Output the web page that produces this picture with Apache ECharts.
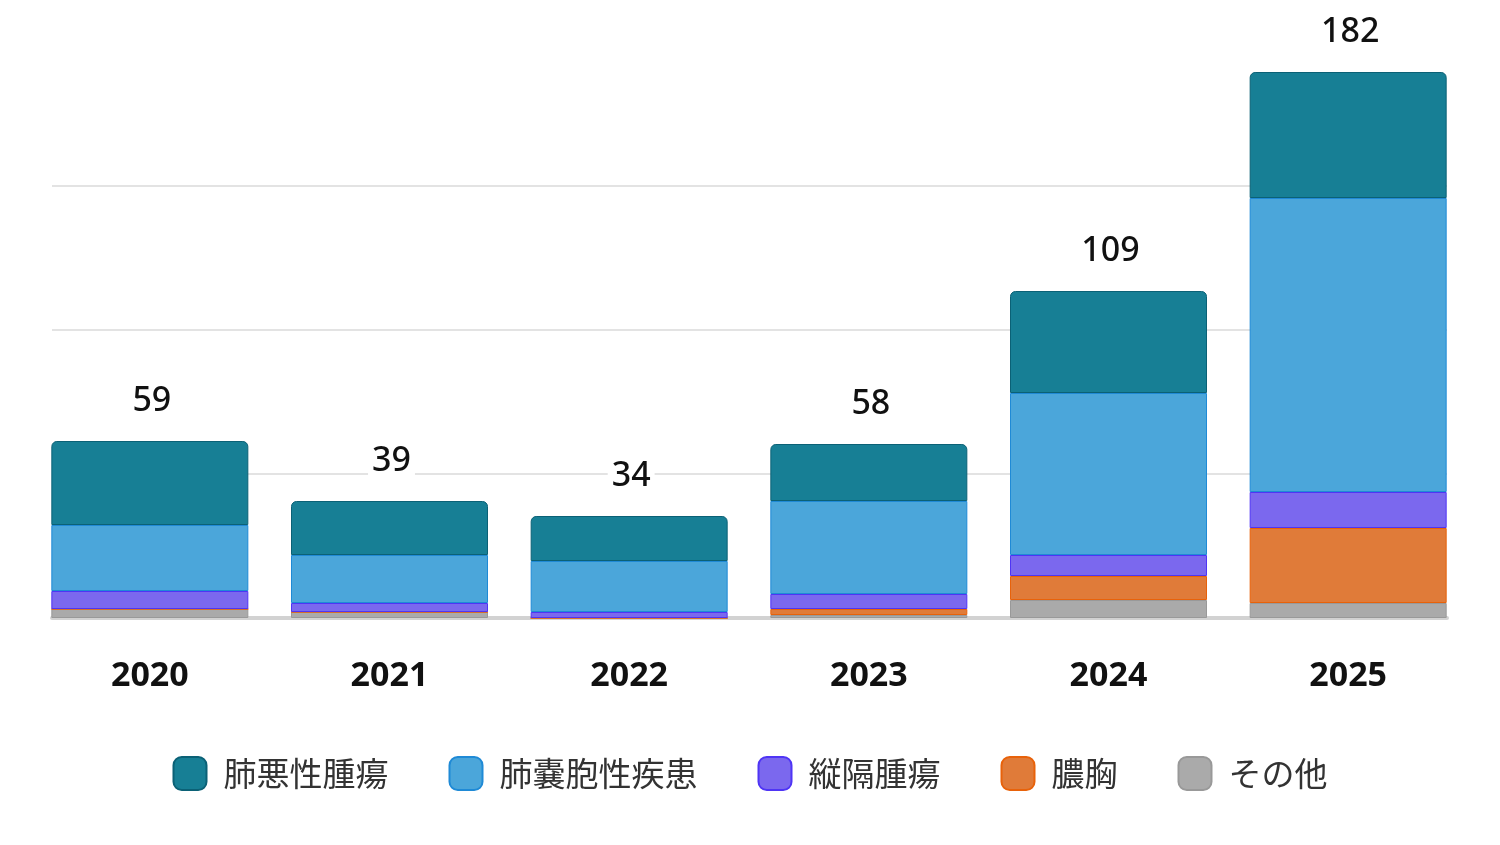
<!DOCTYPE html>
<html>
<head>
<meta charset="utf-8">
<script src="https://cdn.jsdelivr.net/npm/echarts@6/dist/echarts.min.js"></script>
<style>
html, body { margin: 0; padding: 0; background: #fff; }
#main { width: 1500px; height: 845px; }
</style>
</head>
<body>
<div id="main"></div>
<script>
// 年ごとの手術件数（積み上げ棒グラフ）
var years = ['2020', '2021', '2022', '2023', '2024', '2025'];
var seriesNames = ['肺悪性腫瘍', '肺嚢胞性疾患', '縦隔腫瘍', '膿胸', 'その他'];
var malignant = [28, 18, 15, 19, 34, 42];
var cystic = [22, 16, 17, 31, 54, 98];
var mediastinal = [6, 3, 2, 5, 7, 12];
var empyema = [0, 0, 0, 2, 8, 25];
var others = [3, 2, 0, 1, 6, 5];
var totals = [59, 39, 34, 58, 109, 182];

var fills = ['#177f95', '#4ba6da', '#7b68ee', '#e07b39', '#aaaaaa'];
var borders = ['#0b6176', '#1f8ad6', '#4f35f5', '#e8620a', '#999999'];

var numFont = "'Noto Sans', 'Noto Sans CJK JP', sans-serif";
var jpFont = "'Noto Sans CJK JP', sans-serif";

function makeSeries(idx, data, top) {
    var s = {
        name: seriesNames[idx],
        type: 'bar',
        stack: 'total',
        xAxisIndex: 0,
        yAxisIndex: 0,
        barWidth: 197,
        data: data,
        itemStyle: {
            color: fills[idx],
            borderColor: borders[idx],
            borderWidth: 1
        },
        emphasis: { disabled: true }
    };
    if (top) {
        s.itemStyle.borderRadius = [5, 5, 0, 0];
        s.label = {
            show: true,
            position: 'top',
            distance: 23,
            offset: [2, 0],
            formatter: function (p) { return totals[p.dataIndex]; },
            fontFamily: numFont,
            fontSize: 34,
            fontWeight: 500,
            color: '#111',
            backgroundColor: '#fff',
            padding: [0, 4]
        };
    }
    return s;
}

var chart = echarts.init(document.getElementById('main'));
var option = {
    animation: false,
    backgroundColor: '#fff',
    grid: [
        { left: 30, right: 32, top: 42, bottom: 227 },
        { left: 52, right: 53, top: 42, bottom: 227 }
    ],
    legend: {
        data: seriesNames,
        left: 'center',
        top: 751,
        icon: 'roundRect',
        itemWidth: 33,
        itemHeight: 33,
        itemGap: 60,
        itemStyle: { borderWidth: 2 },
        formatter: '{a|{name}}',
        textStyle: {
            fontFamily: jpFont,
            fontSize: 33,
            color: '#333',
            rich: { a: { fontFamily: jpFont, fontSize: 33, color: '#333', padding: [0, 0, 0, 12] } }
        }
    },
    xAxis: [
        {
            type: 'category',
            gridIndex: 0,
            data: years,
            axisLine: { show: false },
            axisTick: { show: false },
            splitLine: { show: false },
            axisLabel: {
                margin: 41,
                fontFamily: numFont,
                fontSize: 34,
                fontWeight: 'bold',
                color: '#111'
            }
        },
        {
            type: 'value',
            gridIndex: 1,
            min: 0,
            max: 1,
            axisLine: { show: true, lineStyle: { color: '#d2d2d2', width: 4 } },
            axisTick: { show: false },
            axisLabel: { show: false },
            splitLine: { show: false }
        }
    ],
    yAxis: [
        {
            type: 'value',
            gridIndex: 0,
            min: 0,
            max: 192,
            interval: 48,
            show: false
        },
        {
            type: 'value',
            gridIndex: 1,
            min: 0,
            max: 192,
            interval: 48,
            axisLine: { show: false },
            axisTick: { show: false },
            axisLabel: { show: false },
            splitLine: {
                show: true,
                showMinLine: false,
                showMaxLine: false,
                lineStyle: { color: '#e3e3e3', width: 2 }
            }
        }
    ],
    series: [
        makeSeries(4, others, false),
        makeSeries(3, empyema, false),
        makeSeries(2, mediastinal, false),
        makeSeries(1, cystic, false),
        makeSeries(0, malignant, true)
    ]
};
chart.setOption(option);
</script>
</body>
</html>
